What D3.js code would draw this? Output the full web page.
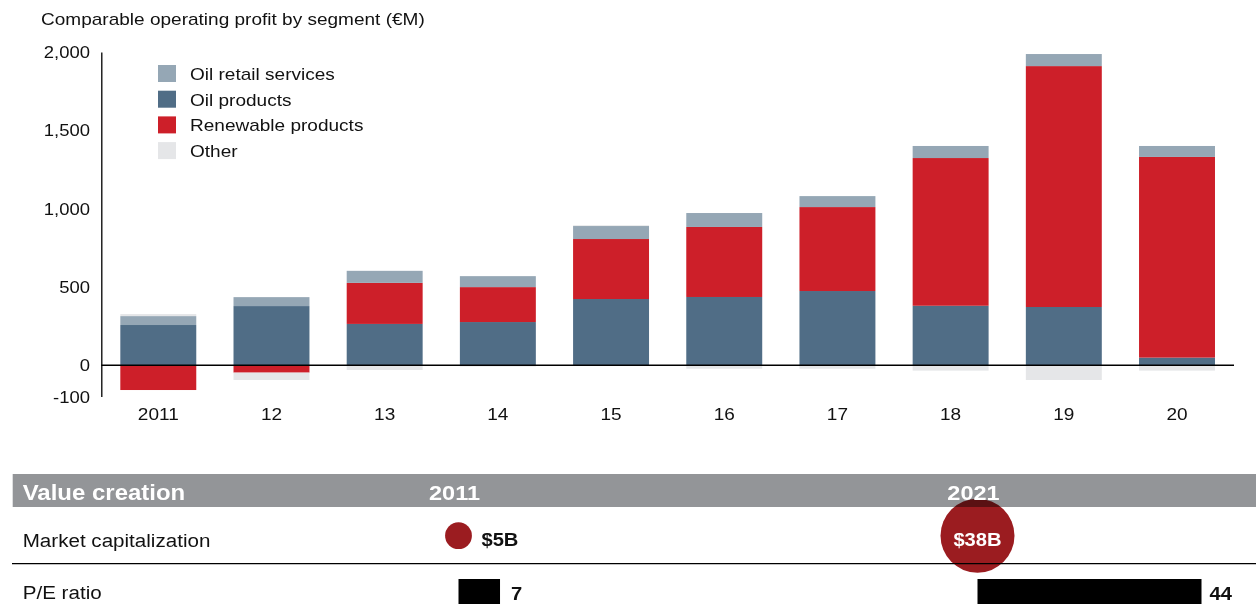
<!DOCTYPE html>
<html><head><meta charset="utf-8">
<script src="https://cdn.jsdelivr.net/npm/d3@7"></script>
<style>body{margin:0;background:#fff}svg{display:block;font-family:"Liberation Sans",Arial,sans-serif}</style>
</head><body><svg id="c" width="1256" height="613"></svg>
<script>
const years = ["2011","12","13","14","15","16","17","18","19","20"];
const oilRetail = [57,57,77,70,83,89,70,77,77,70];
const oilProducts = [257,378,264,276,423,436,474,380,372,49];
const renewable = [-158,-47,262,223,383,447,536,943,1538,1281];
const other = [13,-47,-30,-8,5,-22,-22,-34,-94,-34];
const seriesNames = ["Oil retail services","Oil products","Renewable products","Other"];
const yTickValues = [-200,0,500,1000,1500,2000];
const yTickLabels = ["-100","0","500","1,000","1,500","2,000"];
const tableYears = ["2011","2021"];
const marketCap = [5,38];
const marketCapLabels = ["$5B","$38B"];
const peRatio = [7,44];

const colors = {"Oil retail services":"#95a7b5","Oil products":"#506d86","Renewable products":"#cd1f29","Other":"#e5e6e8"};
const SX = 1.12;
const svg = d3.select("#c");

function txt(g, x, y, s, o={}) {
  return g.append("text")
    .attr("transform", `translate(${x},${y}) scale(${SX},1)`)
    .attr("text-anchor", o.anchor || "start")
    .attr("font-size", o.size || 17)
    .attr("font-weight", o.weight || "normal")
    .attr("fill", o.fill || "#111")
    .text(s);
}

const rows = years.map((y,i)=>({year:y,
  "Oil products":oilProducts[i],"Renewable products":renewable[i],
  "Oil retail services":oilRetail[i],"Other":other[i]}));
const stackKeys = ["Oil products","Renewable products","Oil retail services","Other"];
const stacked = d3.stack().keys(stackKeys).offset(d3.stackOffsetDiverging)(rows);

const x = d3.scaleBand().domain(years).range([101.3,1234]).paddingInner(0.329).paddingOuter(0.168);
const y = d3.scaleLinear().domain([-200,2000]).range([396.6,52]);

txt(svg, 41, 25, "Comparable operating profit by segment (€M)", {size:17});

const gBars = svg.append("g");
stacked.forEach(layer=>{
  gBars.append("g").attr("fill", colors[layer.key])
    .selectAll("rect").data(layer).join("rect")
    .attr("x", d=>x(d.data.year))
    .attr("width", x.bandwidth())
    .attr("y", d=>y(Math.max(d[0],d[1])))
    .attr("height", d=>Math.abs(y(d[0])-y(d[1])));
});

// y axis
const yAxis = svg.append("g").attr("transform","translate(101.3,0)")
  .call(d3.axisLeft(y).tickValues(yTickValues).tickSize(0).tickPadding(11).tickFormat((d,i)=>yTickLabels[i]));
yAxis.select(".domain").attr("stroke","#000").attr("stroke-width",1.3);
yAxis.selectAll(".tick text").remove();
yTickValues.forEach((v,i)=>txt(svg, 90, y(v)+6, yTickLabels[i], {anchor:"end", size:16.5}));

// zero line
svg.append("line").attr("x1",101.3).attr("x2",1234).attr("y1",y(0)).attr("y2",y(0))
  .attr("stroke","#000").attr("stroke-width",1.3);

// x labels
years.forEach(yr=>txt(svg, x(yr)+x.bandwidth()/2, 420, yr, {anchor:"middle", size:17}));

// legend
const lg = svg.append("g");
seriesNames.forEach((n,i)=>{
  lg.append("rect").attr("x",158).attr("y",65+i*25.7).attr("width",18).attr("height",17).attr("fill",colors[n]);
  txt(lg, 190, 80+i*25.7, n, {size:17});
});

// table
const tb = svg.append("g");
const colX = d3.scalePoint().domain(tableYears).range([458.5,977.5]);
const rScale = d3.scaleSqrt().domain([0,38]).range([0,37]);
const peScale = d3.scaleLinear().domain([0,44]).range([7,224]);

tb.append("rect").attr("x",12.7).attr("y",474).attr("width",1256-12.7).attr("height",33).attr("fill","#939598");
tb.append("line").attr("x1",12).attr("x2",1256).attr("y1",563.7).attr("y2",563.7).attr("stroke","#000").attr("stroke-width",1.3);

marketCap.forEach((v,i)=>{
  const cx = colX(tableYears[i]);
  tb.append("circle").attr("cx",cx).attr("cy",535.7).attr("r",rScale(v))
    .attr("fill","#9b1c20").style("mix-blend-mode","multiply");
});
txt(tb, 22.7, 500, "Value creation", {size:21.4, weight:"bold", fill:"#fff"});
tableYears.forEach(t=>txt(tb, colX(t)-4, 500, t, {anchor:"middle", size:21, weight:"bold", fill:"#fff"}));

txt(tb, 22.7, 547, "Market capitalization", {size:18.4});
txt(tb, 22.7, 599, "P/E ratio", {size:18.4});

marketCap.forEach((v,i)=>{
  const cx = colX(tableYears[i]);
  if (i===0) txt(tb, cx+rScale(v)+9.5, 546, marketCapLabels[i], {size:18, weight:"bold"});
  else txt(tb, cx, 546, marketCapLabels[i], {anchor:"middle", size:18, weight:"bold", fill:"#fff"});
});
peRatio.forEach((v,i)=>{
  const bx = colX(tableYears[i]);
  tb.append("rect").attr("x",bx).attr("y",579).attr("width",peScale(v)).attr("height",25).attr("fill","#000");
  txt(tb, bx+peScale(v)+(i===0?11:8), 600, String(v), {size:18, weight:"bold"});
});
</script></body></html>
